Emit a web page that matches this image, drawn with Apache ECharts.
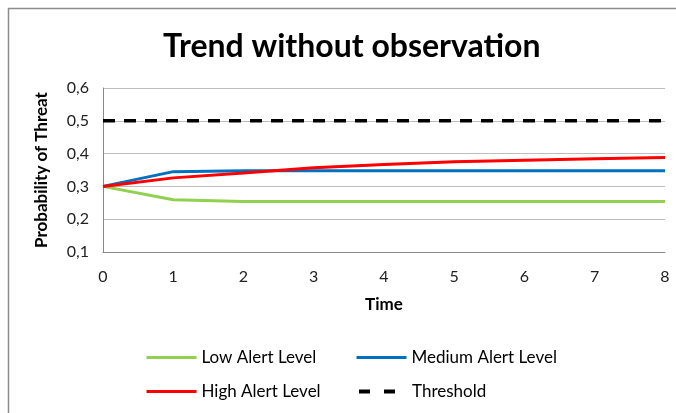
<!DOCTYPE html>
<html>
<head>
<meta charset="utf-8">
<script src="https://cdn.jsdelivr.net/npm/echarts@6/dist/echarts.min.js"></script>
<style>
  html, body { margin: 0; padding: 0; background: #fff; }
  #chart { width: 676px; height: 413px; }
</style>
</head>
<body>
<div id="chart"></div>
<script>
// Time steps and threat probabilities per alert level
var timeSteps = [0, 1, 2, 3, 4, 5, 6, 7, 8];
var lowAlert = [0.300, 0.259, 0.254, 0.254, 0.254, 0.254, 0.254, 0.254, 0.254];
var mediumAlert = [0.300, 0.345, 0.348, 0.348, 0.348, 0.348, 0.348, 0.348, 0.348];
var highAlert = [0.300, 0.326, 0.341, 0.357, 0.367, 0.375, 0.380, 0.384, 0.388];
var threshold = [0.5, 0.5, 0.5, 0.5, 0.5, 0.5, 0.5, 0.5, 0.5];
var yTicks = [0.1, 0.2, 0.3, 0.4, 0.5, 0.6];

var FONT = 'Lato, "Open Sans", sans-serif';

function pairs(values) {
  return timeSteps.map(function (t, i) { return [t, values[i]]; });
}

function lineSeries(name, values, color, dashed) {
  return {
    name: name,
    type: 'line',
    data: pairs(values),
    showSymbol: false,
    symbol: 'none',
    animation: false,
    lineStyle: {
      color: color,
      width: dashed ? 3.5 : 3,
      type: dashed ? [12, 9] : 'solid',
      cap: 'butt'
    },
    itemStyle: { color: color },
    z: dashed ? 1 : 2
  };
}

// One legend block per entry; the key is only the series line, no marker
function legendItem(name, left, top, dashed) {
  var item = {
    name: name,
    itemStyle: { opacity: 0 },
    lineStyle: dashed
      ? { type: [11, 14], dashOffset: 23, width: 4, cap: 'butt' }
      : { width: 3, cap: 'butt' }
  };
  return {
    data: [item],
    left: left,
    top: top,
    padding: 0,
    itemWidth: 50,
    itemHeight: 14,
    itemGap: 0,
    textStyle: { fontFamily: FONT, fontSize: 17, color: '#000', padding: [0, 0, 0, 0] },
    selectedMode: false
  };
}

var chart = echarts.init(document.getElementById('chart'), null, { renderer: 'canvas' });

chart.setOption({
  backgroundColor: '#fff',
  animation: false,
  title: {
    text: 'Trend without observation',
    left: 158,
    top: 26,
    textStyle: { fontFamily: FONT, fontSize: 32, fontWeight: 'bold', color: '#000' }
  },
  graphic: [{
    type: 'rect',
    shape: { x: 8.5, y: 8.5, width: 720, height: 440 },
    style: { fill: 'none', stroke: '#8c8c8c', lineWidth: 1.5 },
    silent: true
  }],
  grid: { left: 103, right: 11, top: 88, bottom: 161 },
  xAxis: {
    type: 'value',
    min: 0,
    max: 8,
    interval: 1,
    name: 'Time',
    nameLocation: 'middle',
    nameGap: 44,
    nameTextStyle: { fontFamily: FONT, fontSize: 17, fontWeight: 'bold', color: '#000' },
    axisLine: { show: true, lineStyle: { color: '#888', width: 1 } },
    axisTick: { show: false },
    splitLine: { show: false },
    axisLabel: { fontFamily: FONT, fontSize: 16, color: '#222', margin: 17 }
  },
  yAxis: {
    type: 'value',
    min: yTicks[0],
    max: yTicks[yTicks.length - 1],
    interval: 0.1,
    name: 'Probability of Threat',
    nameLocation: 'middle',
    nameGap: 53,
    nameTextStyle: { fontFamily: FONT, fontSize: 17, fontWeight: 'bold', color: '#000' },
    axisLine: { show: true, lineStyle: { color: '#888', width: 1 } },
    axisTick: { show: false },
    splitLine: { show: true, lineStyle: { color: '#bdbdbd', width: 1 } },
    axisLabel: {
      fontFamily: FONT, fontSize: 16, color: '#222', margin: 14,
      formatter: function (v) { return v.toFixed(1).replace('.', ','); }
    }
  },
  legend: [
    legendItem('Low Alert Level', 145, 349, false),
    legendItem('Medium Alert Level', 355, 349, false),
    legendItem('High Alert Level', 145, 383, false),
    legendItem('Threshold', 355, 383, true)
  ],
  series: [
    lineSeries('Low Alert Level', lowAlert, '#92d050', false),
    lineSeries('Medium Alert Level', mediumAlert, '#0070c0', false),
    lineSeries('High Alert Level', highAlert, '#ff0000', false),
    lineSeries('Threshold', threshold, '#000000', true)
  ]
});
</script>
</body>
</html>
